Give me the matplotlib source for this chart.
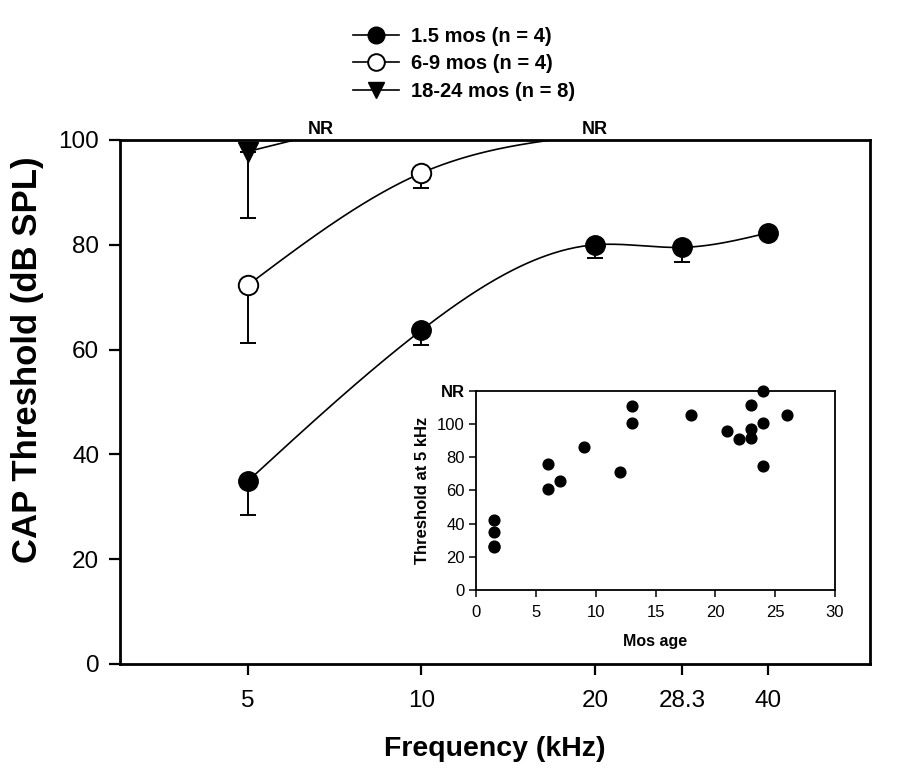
import numpy as np
import matplotlib
matplotlib.use('Agg')
import matplotlib.pyplot as plt
from matplotlib.lines import Line2D

plt.rcParams['font.family'] = ['Liberation Sans', 'DejaVu Sans']

# main panel: CAP thresholds vs frequency
freqs = [5, 10, 20, 28.3, 40]
freq_ticks = [5, 10, 20, 28.3, 40]
freq_labels = ['5', '10', '20', '28.3', '40']

thr_1_5 = [34.9, 63.7, 80.0, 79.5, 82.3]
err_1_5 = [6.5, 2.8, 2.5, 2.7, 0.0]

freq_6_9 = [5, 10, 20]
thr_6_9 = [72.3, 93.7, 101.0]   # last point = NR (drawn above the top)
err_6_9 = [11.0, 2.9, 0.0]

freq_18_24 = [5, 10]
thr_18_24 = [97.8, 106.0]       # last point = NR
err_18_24 = [12.7, 0.0]

nr_x = [6.7, 20]

# inset: threshold at 5 kHz vs age
ages = [1.5, 1.5, 1.5, 1.5, 6, 6, 7, 9, 12, 13, 13, 18, 21, 22, 23, 23, 23, 24, 24, 24, 26]
thr5 = [42.2, 35.1, 26.8, 26.0, 76.0, 60.8, 65.9, 86.3, 71.3, 110.8, 101.0, 105.8,
        95.8, 90.8, 111.8, 96.8, 91.8, 120.0, 101.0, 74.7, 105.8]


def spline(x, y, n=300):
    # natural cubic spline in log-frequency
    u = np.log10(np.asarray(x, float))
    y = np.asarray(y, float)
    uu = np.linspace(u[0], u[-1], n)
    if len(u) < 3:
        return 10 ** uu, np.interp(uu, u, y)
    h = np.diff(u)
    m = len(u)
    A = np.zeros((m, m))
    b = np.zeros(m)
    A[0, 0] = A[-1, -1] = 1
    for i in range(1, m - 1):
        A[i, i - 1] = h[i - 1]
        A[i, i] = 2 * (h[i - 1] + h[i])
        A[i, i + 1] = h[i]
        b[i] = 6 * ((y[i + 1] - y[i]) / h[i] - (y[i] - y[i - 1]) / h[i - 1])
    M = np.linalg.solve(A, b)
    k = np.clip(np.searchsorted(u, uu) - 1, 0, m - 2)
    t0 = u[k + 1] - uu
    t1 = uu - u[k]
    hk = h[k]
    yy = (M[k] * t0 ** 3 / (6 * hk) + M[k + 1] * t1 ** 3 / (6 * hk)
          + (y[k] / hk - M[k] * hk / 6) * t0 + (y[k + 1] / hk - M[k + 1] * hk / 6) * t1)
    return 10 ** uu, yy


fig = plt.figure(figsize=(9.13, 7.7), dpi=100)
ax = fig.add_axes([0.1314, 0.1377, 0.8215, 0.6805])

lw = 1.2
for fx, fy in [(freqs, thr_1_5), (freq_6_9, thr_6_9), (freq_18_24, thr_18_24)]:
    sx, sy = spline(fx, fy)
    ax.plot(sx, sy, color='k', lw=lw, zorder=2)

err_kw = dict(fmt='none', ecolor='k', elinewidth=1.4, capsize=5.5, capthick=1.4, zorder=3)
ax.errorbar(freqs[:4], thr_1_5[:4], yerr=[err_1_5[:4], [0] * 4], **err_kw)
ax.errorbar(freq_6_9[:2], thr_6_9[:2], yerr=[err_6_9[:2], [0, 0]], **err_kw)
ax.errorbar(freq_18_24[:1], thr_18_24[:1], yerr=[err_18_24[:1], [0]], **err_kw)

ax.plot(freqs, thr_1_5, 'o', ms=14, mfc='k', mec='k', zorder=4)
ax.plot(freq_6_9[:2], thr_6_9[:2], 'o', ms=14, mfc='white', mec='k', mew=1.4, zorder=4)
ax.plot(freq_18_24[:1], thr_18_24[:1], 'v', ms=14, mfc='k', mec='k', zorder=4)

for x in nr_x:
    ax.text(x, 100.3, 'NR', ha='center', va='bottom', fontsize=13, fontweight='bold')

ax.set_xscale('log')
ax.set_xlim(3, 60)
ax.set_ylim(0, 100)
ax.set_xticks(freq_ticks)
ax.set_xticklabels(freq_labels)
ax.xaxis.set_minor_locator(matplotlib.ticker.NullLocator())
ax.set_yticks([0, 20, 40, 60, 80, 100])
ax.tick_params(axis='both', direction='out', length=8, width=1.6, labelsize=17.5)
ax.tick_params(axis='x', pad=11)
ax.tick_params(axis='y', pad=7)
for s in ax.spines.values():
    s.set_linewidth(2)
ax.set_xlabel('Frequency (kHz)', fontsize=20.5, fontweight='bold', labelpad=17)
ax.set_ylabel('CAP Threshold (dB SPL)', fontsize=25, fontweight='bold')
ax.yaxis.set_label_coords(-0.101, 0.58)

handles = [
    Line2D([], [], color='k', lw=lw, marker='o', ms=12, mfc='k', mec='k'),
    Line2D([], [], color='k', lw=lw, marker='o', ms=12, mfc='white', mec='k', mew=1.4),
    Line2D([], [], color='k', lw=lw, marker='v', ms=12, mfc='k', mec='k'),
]
labels = ['1.5 mos (n = 4)', '6-9 mos (n = 4)', '18-24 mos (n = 8)']
fig.legend(handles, labels, loc='upper left', bbox_to_anchor=(353 / 913, 1 - 27 / 770),
           frameon=False, prop=dict(weight='bold', size=14.5), handlelength=2.3,
           handletextpad=0.6, labelspacing=0.42, borderpad=0, borderaxespad=0)

# inset
ins = fig.add_axes([0.5214, 0.2338, 0.3932, 0.2584])
ins.scatter(ages, thr5, s=60, color='k', zorder=3, clip_on=False)
ins.set_xlim(0, 30)
ins.set_ylim(0, 120)
ins.set_xticks([0, 5, 10, 15, 20, 25, 30])
ins.set_yticks([0, 20, 40, 60, 80, 100, 120])
ins.set_yticklabels(['0', '20', '40', '60', '80', '100', 'NR'])
ins.get_yticklabels()[-1].set_fontweight('bold')
ins.tick_params(axis='both', direction='out', length=5, width=1.1, labelsize=12)
ins.tick_params(axis='x', pad=6)
ins.tick_params(axis='y', pad=3)
for s in ins.spines.values():
    s.set_linewidth(1.3)
ins.set_xlabel('Mos age', fontsize=11.5, fontweight='bold', labelpad=10)
ins.set_ylabel('Threshold at 5 kHz', fontsize=12, fontweight='bold', labelpad=5)

fig.savefig('out.png', dpi=100)
